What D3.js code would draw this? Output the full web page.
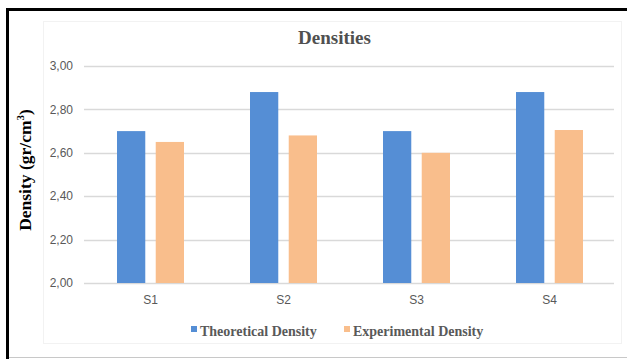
<!DOCTYPE html>
<html>
<head>
<meta charset="utf-8">
<script src="https://cdn.jsdelivr.net/npm/d3@7"></script>
<style>
  html, body { margin: 0; padding: 0; background: #fff; }
  svg { display: block; }
</style>
</head>
<body>
<svg id="chart" width="627" height="359"></svg>
<script>
// Sample names and the two density series (gr/cm3)
const categories = ["S1", "S2", "S3", "S4"];
const seriesNames = ["Theoretical Density", "Experimental Density"];
const theoretical = [2.70, 2.88, 2.70, 2.88];
const experimental = [2.65, 2.68, 2.60, 2.705];
const yTicks = [2.00, 2.20, 2.40, 2.60, 2.80, 3.00];

const colors = ["#558ed5", "#f9be8c"];
const svg = d3.select("#chart");

// Outer frame: heavy black top/left edges, light gray bottom edge
svg.append("rect").attr("x", 6).attr("y", 8).attr("width", 621).attr("height", 3).attr("fill", "#000");
svg.append("rect").attr("x", 6).attr("y", 8).attr("width", 3).attr("height", 351).attr("fill", "#000");
svg.append("line").attr("x1", 9).attr("x2", 627).attr("y1", 357.5).attr("y2", 357.5)
  .attr("stroke", "#c8c8c8").attr("stroke-width", 1);

// Faint chart-area box
svg.append("rect").attr("x", 43.5).attr("y", 21.5).attr("width", 578).attr("height", 322)
  .attr("fill", "none").attr("stroke", "#f2f2f2").attr("stroke-width", 1);

const x = d3.scaleBand().domain(categories).range([84, 616]);
const xInner = d3.scaleBand().domain(seriesNames).range([0, 67]).paddingInner(0.27);
const y = d3.scaleLinear().domain([2.0, 3.0]).range([283, 66]);

// Horizontal gridlines
svg.append("g").selectAll("line").data(yTicks).join("line")
  .attr("x1", 84).attr("x2", 614)
  .attr("y1", d => Math.round(y(d)) + 0.5).attr("y2", d => Math.round(y(d)) + 0.5)
  .attr("stroke", "#d9d9d9").attr("stroke-width", 1.3);

// Y axis tick labels
const fmt = d => d3.format(".2f")(d).replace(".", ",");
svg.append("g").selectAll("text").data(yTicks).join("text")
  .attr("x", 73).attr("y", d => y(d)).attr("dy", "0.35em")
  .attr("text-anchor", "end")
  .attr("font-family", "'Liberation Sans', Arial, sans-serif").attr("font-size", 12)
  .attr("fill", "#595959").text(fmt);

// Bars
const rows = categories.map((c, i) => ({ c, vals: [theoretical[i], experimental[i]] }));
const groups = svg.append("g").selectAll("g").data(rows).join("g")
  .attr("transform", d => `translate(${x(d.c) + (x.bandwidth() - 67) / 2},0)`);
groups.selectAll("rect").data(d => d.vals.map((v, k) => ({ v, k })))
  .join("rect")
  .attr("x", d => xInner(seriesNames[d.k]))
  .attr("width", xInner.bandwidth())
  .attr("y", d => y(d.v))
  .attr("height", d => y(2.0) - y(d.v))
  .attr("fill", d => colors[d.k]);

// X axis category labels
svg.append("g").selectAll("text").data(categories).join("text")
  .attr("x", d => x(d) + x.bandwidth() / 2).attr("y", 304)
  .attr("text-anchor", "middle")
  .attr("font-family", "'Liberation Sans', Arial, sans-serif").attr("font-size", 12)
  .attr("fill", "#595959").text(d => d);

// Title
svg.append("text").attr("x", 334.5).attr("y", 44).attr("text-anchor", "middle")
  .attr("font-family", "'Liberation Serif', 'Times New Roman', serif").attr("font-weight", "bold")
  .attr("font-size", 19).attr("fill", "#505050").text("Densities");

// Y axis title with superscript
const yt = svg.append("text")
  .attr("transform", "translate(31,170) rotate(-90)")
  .attr("text-anchor", "middle")
  .attr("font-family", "'Liberation Serif', 'Times New Roman', serif").attr("font-weight", "bold")
  .attr("font-size", 17.5).attr("fill", "#000");
yt.append("tspan").text("Density (gr/cm");
yt.append("tspan").attr("font-size", 11).attr("dy", -7).text("3");
yt.append("tspan").attr("dy", 7).text(")");

// Legend
const legendX = [191, 344];
const lg = svg.append("g").selectAll("g").data(seriesNames).join("g")
  .attr("transform", (d, i) => `translate(${legendX[i]},331)`);
lg.append("rect").attr("x", 0).attr("y", -5).attr("width", 6).attr("height", 6)
  .attr("fill", (d, i) => colors[i]);
lg.append("text").attr("x", 9).attr("y", 0).attr("dy", "0.33em")
  .attr("font-family", "'Liberation Serif', 'Times New Roman', serif").attr("font-weight", "bold")
  .attr("font-size", 14).attr("fill", "#595959").text(d => d);
</script>
</body>
</html>
